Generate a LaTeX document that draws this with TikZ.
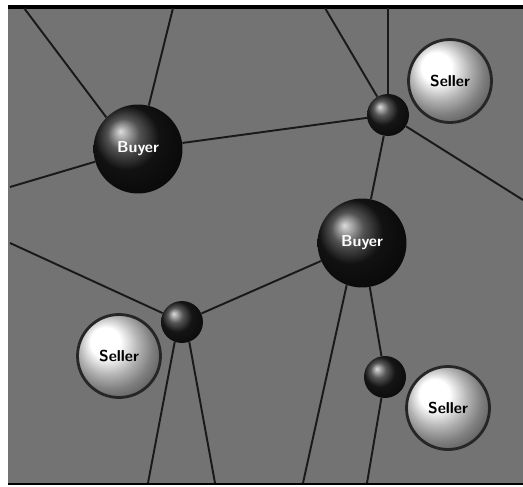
\documentclass[tikz,border=0pt]{standalone}
\begin{document}
\begin{tikzpicture}[x=0.02cm,y=-0.02cm,
  buyer/.style={circle,minimum size=1.78cm,inner sep=0pt,ball color=black!90,
    text=white,font=\sffamily\bfseries\small},
  seller/.style={circle,minimum size=1.66cm,inner sep=0pt,ball color=white,
    draw=black!85,line width=1.6pt,text=black,font=\sffamily\bfseries\small},
  hub/.style={circle,minimum size=0.84cm,inner sep=0pt,ball color=black!88},
  link/.style={line width=1.1pt,black!90}]
\useasboundingbox (0,0) rectangle (523,486);
\fill[black!55] (8,7) rectangle (523,484);
\draw[line width=2pt] (8,7) -- (523,7);
\draw[line width=1.5pt] (8,484) -- (523,484);
% spheres
\node[buyer] (buyer1) at (138,149) {Buyer};
\node[buyer] (buyer2) at (362,243) {Buyer};
\node[seller] (seller1) at (450,81) {Seller};
\node[seller] (seller2) at (119,356) {Seller};
\node[seller] (seller3) at (448,408) {Seller};
\node[hub] (hub1) at (388,115) {};
\node[hub] (hub2) at (182,322) {};
\node[hub] (hub3) at (385,377) {};
% free ends at the edges
\coordinate (e1) at (24,8);
\coordinate (e2) at (173,8);
\coordinate (e3) at (10,187);
\coordinate (e4) at (325,8);
\coordinate (e5) at (388,8);
\coordinate (e6) at (523,200);
\coordinate (e7) at (10,243);
\coordinate (e8) at (148,483);
\coordinate (e9) at (215,483);
\coordinate (e10) at (303,483);
\coordinate (e11) at (367,483);
% links
\draw[link] (e1) -- (buyer1.135);
\draw[link] (e2) -- (buyer1);
\draw[link] (e3) -- (buyer1);
\draw[link] (buyer1) -- (hub1);
\draw[link] (e4) -- (hub1);
\draw[link] (e5) -- (hub1);
\draw[link] (hub1) -- (e6);
\draw[link] (hub1) -- (buyer2);
\draw[link] (e7) -- (hub2);
\draw[link] (buyer2) -- (hub2);
\draw[link] (hub2.250) -- (e8);
\draw[link] (hub2.290) -- (e9);
\draw[link] (buyer2.250) -- (e10);
\draw[link] (buyer2.280) -- (hub3);
\draw[link] (hub3) -- (e11);
\end{tikzpicture}
\end{document}
